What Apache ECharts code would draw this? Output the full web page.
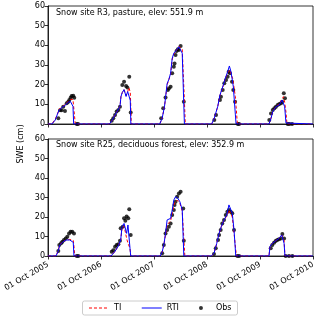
<!DOCTYPE html>
<html>
<head>
<meta charset="utf-8">
<script src="https://cdn.jsdelivr.net/npm/echarts@6/dist/echarts.min.js"></script>
<style>
html, body { margin: 0; padding: 0; background: #fff; }
#main { width: 320px; height: 320px; }
</style>
</head>
<body>
<div id="main"></div>
<script>
var tickLabels = ['01 Oct 2005', '01 Oct 2006', '01 Oct 2007', '01 Oct 2008', '01 Oct 2009', '01 Oct 2010'];

// site R3 (top panel), modelled SWE
var r3ModelDates = [
    '2005-10-01','2005-10-28','2005-11-05','2005-11-20','2005-12-05','2005-12-16','2006-01-06','2006-01-27','2006-02-17','2006-03-04','2006-03-14','2006-03-22','2006-03-27','2006-04-07',
    '2006-11-28','2006-12-14','2006-12-25','2007-01-17','2007-01-29','2007-02-09','2007-02-16','2007-02-25','2007-03-09','2007-03-23','2007-04-03','2007-04-12','2007-04-21','2007-04-25','2007-04-28',
    '2007-11-10','2007-11-27','2007-12-13','2007-12-31','2008-01-12','2008-01-24','2008-02-04','2008-02-15','2008-03-05','2008-03-21','2008-04-02','2008-04-13','2008-04-28','2008-05-04',
    '2008-11-02','2008-11-20','2008-12-14','2008-12-29','2009-01-21','2009-02-04','2009-02-20','2009-03-04','2009-03-08','2009-03-15','2009-03-27','2009-03-31','2009-04-14','2009-04-19','2009-04-28',
    '2009-12-02','2009-12-16','2009-12-28','2010-01-19','2010-02-11','2010-03-02','2010-03-11','2010-03-20','2010-03-29','2010-04-05','2010-09-30'
];
var r3Ti = [
    0,0,0.5,2.5,5,7.5,8.5,10,11.5,12.5,13,12.5,12,0,
    0,1.5,3,6,7,9,14,16,17.5,14.5,16.5,18.5,16,8,0,
    0,3,9,20,22.5,25.5,33,35.5,37.5,39.5,40.5,38,12,0,
    0,3,9,14.5,19.5,23,26,27,27.5,25.5,23,21,14,9,0,
    0,3,6.5,9,10,12.5,13.9,11,6,0,0
];
var r3Rti = [
    0,0,0.5,2,5,7,8.5,9.5,11,11.5,12,9,0,0,
    0,1.5,3,6,7,9,14,16,17.5,14,16.5,17,12,0,0,
    0,3,9,20.5,22.7,25.8,33.4,36,37.6,39.3,40.2,36,0,0,
    0,3,9,14.7,19.8,23.2,26.6,29.5,28.5,26.6,21,19,5,0,0,
    0,2.9,6.3,8.8,9.7,12.2,13.1,8.8,0.5,0,0
];
// site R3 observations
var r3ObsDates = [
    '2005-12-11','2005-12-23','2006-01-03','2006-01-14','2006-01-26','2006-02-07','2006-02-18','2006-02-25','2006-03-06','2006-03-13','2006-03-24','2006-03-31','2006-04-17','2006-04-26',
    '2006-12-14','2006-12-25','2007-01-06','2007-01-17','2007-01-29','2007-02-09','2007-02-25','2007-03-09','2007-03-23','2007-04-01','2007-04-14','2007-04-24',
    '2007-11-20','2007-12-04','2007-12-20','2008-01-05','2008-01-12','2008-01-24','2008-02-04','2008-02-15','2008-02-20','2008-02-27','2008-03-05','2008-03-14','2008-03-21','2008-04-02','2008-04-24',
    '2008-11-20','2008-12-02','2008-12-29','2009-01-05','2009-01-17','2009-01-28','2009-02-09','2009-02-20','2009-02-27','2009-03-08','2009-03-22','2009-03-31','2009-04-12','2009-05-01','2009-05-10',
    '2009-12-04','2009-12-16','2009-12-28','2010-01-08','2010-01-19','2010-01-31','2010-02-11','2010-02-23','2010-03-02','2010-03-14','2010-03-22','2010-04-10','2010-04-21','2010-05-10'
];
var r3Obs = [
    2.9,7,7,8.8,6.6,10.6,11.3,12.2,13.4,14.2,14.4,13.4,0,0,
    1.7,2.9,4.6,6.3,7.1,8.8,19.8,21.5,19.3,18.6,24,5.8,
    2.9,8,13.5,17.3,18.1,19,25.8,29.1,30.8,35.1,37.1,38,37.6,39.7,11.3,
    2,4.6,12.2,13.9,17.3,20.7,22.4,24,26.6,25.8,21.5,17.3,11.3,0,0,
    2,5.4,7.1,8,8.8,9.7,10.2,10.5,11.3,15.6,13.1,0,0,0
];

// site R25 (bottom panel), modelled SWE
var r25ModelDates = [
    '2005-10-01','2005-11-25','2005-12-09','2005-12-21','2006-01-12','2006-02-04','2006-02-28','2006-03-11','2006-03-24','2006-03-29','2006-04-03',
    '2006-12-09','2007-01-04','2007-01-26','2007-02-14','2007-02-23','2007-03-09','2007-03-18','2007-03-27','2007-04-05','2007-04-19','2007-04-24','2007-04-28',
    '2007-11-14','2007-11-27','2007-12-08','2007-12-20','2007-12-31','2008-01-12','2008-01-24','2008-02-04','2008-02-15','2008-02-27','2008-03-14','2008-03-28','2008-04-13','2008-04-24','2008-05-01',
    '2008-10-30','2008-11-18','2008-12-07','2008-12-23','2009-01-07','2009-01-26','2009-02-14','2009-03-01','2009-03-13','2009-03-24','2009-04-05','2009-04-17','2009-04-22',
    '2009-12-02','2009-12-09','2009-12-25','2010-01-17','2010-02-09','2010-02-28','2010-03-09','2010-03-16','2010-03-22','2010-09-30'
];
var r25Ti = [
    0,0,2.5,5.8,7.3,8.2,8.5,9,8,5,0,
    0,2.2,4.8,8.2,14,15.5,15,9,6.5,4,0,0,
    0,2,5.5,11,16,15.9,18,22,26,28,28.5,27,23,9,0,
    0,1.4,6.5,11.5,15,18.5,20.5,23.5,23,20,12,3,0,
    0,5,6.5,7.8,9,10.8,11.6,8,0,0
];
var r25Rti = [
    0,0,2.2,5.6,7.3,8.2,8.2,8,7,0,0,
    0,2.2,4.8,8.2,15,16.7,16.7,11.6,15.9,4,0,0,
    0,2.2,5.6,11.6,18.5,17.6,19.3,23.6,28.7,30.4,29.6,27.8,23.6,0,0,
    0,1.4,6.5,11.6,15,18.5,21,26.2,25.6,21.9,13.3,0,0,
    0,5,6.5,7.8,9,10.8,11.6,6.5,0,0
];
// site R25 observations
var r25ObsDates = [
    '2005-12-11','2005-12-18','2005-12-30','2006-01-08','2006-01-19','2006-01-31','2006-02-11','2006-02-23','2006-03-06','2006-03-17','2006-03-29','2006-04-17','2006-04-28',
    '2006-12-14','2006-12-25','2007-01-06','2007-01-17','2007-01-29','2007-02-09','2007-02-14','2007-02-28','2007-03-09','2007-03-18','2007-03-27','2007-04-07','2007-04-14','2007-04-24',
    '2007-11-27','2007-12-08','2007-12-20','2007-12-31','2008-01-12','2008-01-24','2008-02-04','2008-02-15','2008-02-20','2008-02-27','2008-03-09','2008-03-21','2008-04-02','2008-04-20','2008-04-24',
    '2008-11-18','2008-11-30','2008-12-16','2008-12-23','2009-01-03','2009-01-14','2009-01-26','2009-02-07','2009-02-18','2009-03-01','2009-03-13','2009-03-24','2009-04-05','2009-04-28','2009-05-10',
    '2009-12-14','2009-12-25','2010-01-06','2010-01-17','2010-01-28','2010-02-09','2010-02-21','2010-03-04','2010-03-16','2010-03-27','2010-04-19','2010-05-12'
];
var r25Obs = [
    2.6,5.6,6.5,7.3,8.2,9,9.9,11.6,12.5,12.5,11.6,0,0,
    2.2,3,4.8,5.6,6,7.8,14.2,15,19.3,18.1,20.2,19.3,24,10.8,
    1.4,5.6,11.6,13.3,15,16.7,21,23.6,26.2,27.8,30.4,32.1,33,24.4,7.8,
    1,4,8.2,10.8,13.3,16.7,18.5,21,22.7,23.6,22.7,21.9,13.3,0,0,
    4,5.6,6.8,7.7,8.2,8.6,9,11.3,9,0,0,0
];

var t0 = Date.UTC(2005, 9, 1);
var YEAR = 365.25;
function dayOf(s) {
    var p = s.split('-');
    return (Date.UTC(+p[0], +p[1] - 1, +p[2]) - t0) / 86400000;
}
function pairs(dates, vals) {
    return dates.map(function (d, i) { return [dayOf(d), vals[i]]; });
}

var font = 'DejaVu Sans';
var txt = { fontFamily: font, fontSize: 8, color: '#000' };

function xAxis(idx, showLabel) {
    return {
        type: 'value', gridIndex: idx,
        min: 0, max: 5 * YEAR, interval: YEAR,
        axisLine: { show: true, lineStyle: { color: '#000', width: 0.8 } },
        axisTick: { show: true, length: 3.5, lineStyle: { color: '#000', width: 0.8 } },
        splitLine: { show: false },
        axisLabel: {
            show: showLabel, rotate: 30, margin: 8,
            fontFamily: font, fontSize: 8, color: '#000',
            formatter: function (v) { return tickLabels[Math.round(v / YEAR)]; }
        }
    };
}
function yAxis(idx) {
    return {
        type: 'value', gridIndex: idx,
        min: 0, max: 60, interval: 10,
        axisLine: { show: true, lineStyle: { color: '#000', width: 0.8 } },
        axisTick: { show: true, length: 3.5, lineStyle: { color: '#000', width: 0.8 } },
        splitLine: { show: false },
        axisLabel: { margin: 3, fontFamily: font, fontSize: 8, color: '#000' }
    };
}
function lineSeries(name, idx, data, color, type) {
    return {
        name: name, type: 'line', xAxisIndex: idx, yAxisIndex: idx,
        data: data, symbol: 'none', showSymbol: false, animation: false,
        itemStyle: { color: color },
        lineStyle: { color: color, width: 1, type: type }
    };
}
function obsSeries(idx, data) {
    return {
        name: 'Obs', type: 'scatter', xAxisIndex: idx, yAxisIndex: idx,
        data: data, symbol: 'circle', symbolSize: 4, animation: false,
        itemStyle: { color: '#000' }
    };
}

var myChart = echarts.init(document.getElementById('main'));
option = {
    backgroundColor: '#fff',
    animation: false,
    title: [
        { text: 'Snow site R3, pasture, elev: 551.9 m', left: 56, top: 9, padding: 0,
          textStyle: { fontFamily: font, fontSize: 8, fontWeight: 'normal', color: '#000' } },
        { text: 'Snow site R25, deciduous forest, elev: 352.9 m', left: 56, top: 141, padding: 0,
          textStyle: { fontFamily: font, fontSize: 8, fontWeight: 'normal', color: '#000' } }
    ],
    grid: [
        { left: 48, right: 7, top: 6, height: 118, show: true, borderColor: '#000', borderWidth: 0.8 },
        { left: 48, right: 7, top: 139, height: 117, show: true, borderColor: '#000', borderWidth: 0.8 }
    ],
    xAxis: [xAxis(0, false), xAxis(1, true)],
    yAxis: [yAxis(0), yAxis(1)],
    legend: {
        data: [
            { name: 'TI', itemStyle: { opacity: 0 }, lineStyle: { width: 1, type: [3, 2], color: '#ff0000' } },
            { name: 'RTI', itemStyle: { opacity: 0 }, lineStyle: { width: 1, color: '#0000ff' } },
            { name: 'Obs', icon: 'circle' }
        ],
        left: 'center', top: 301,
        itemWidth: 20, itemHeight: 4, itemGap: 20,
        padding: [3, 6],
        borderColor: '#ccc', borderWidth: 1, borderRadius: 2,
        textStyle: txt
    },
    graphic: [
        { type: 'text', x: 21, y: 144, rotation: Math.PI / 2,
          style: { text: 'SWE (cm)', fontFamily: font, fontSize: 8, fill: '#000',
                   textAlign: 'center', textVerticalAlign: 'middle' } }
    ],
    series: [
        lineSeries('TI', 0, pairs(r3ModelDates, r3Ti), '#ff0000', [3, 2]),
        lineSeries('RTI', 0, pairs(r3ModelDates, r3Rti), '#0000ff', 'solid'),
        obsSeries(0, pairs(r3ObsDates, r3Obs)),
        lineSeries('TI', 1, pairs(r25ModelDates, r25Ti), '#ff0000', [3, 2]),
        lineSeries('RTI', 1, pairs(r25ModelDates, r25Rti), '#0000ff', 'solid'),
        obsSeries(1, pairs(r25ObsDates, r25Obs))
    ]
};

myChart.setOption(option);
window.onresize = myChart.resize;
</script>
</body>
</html>
